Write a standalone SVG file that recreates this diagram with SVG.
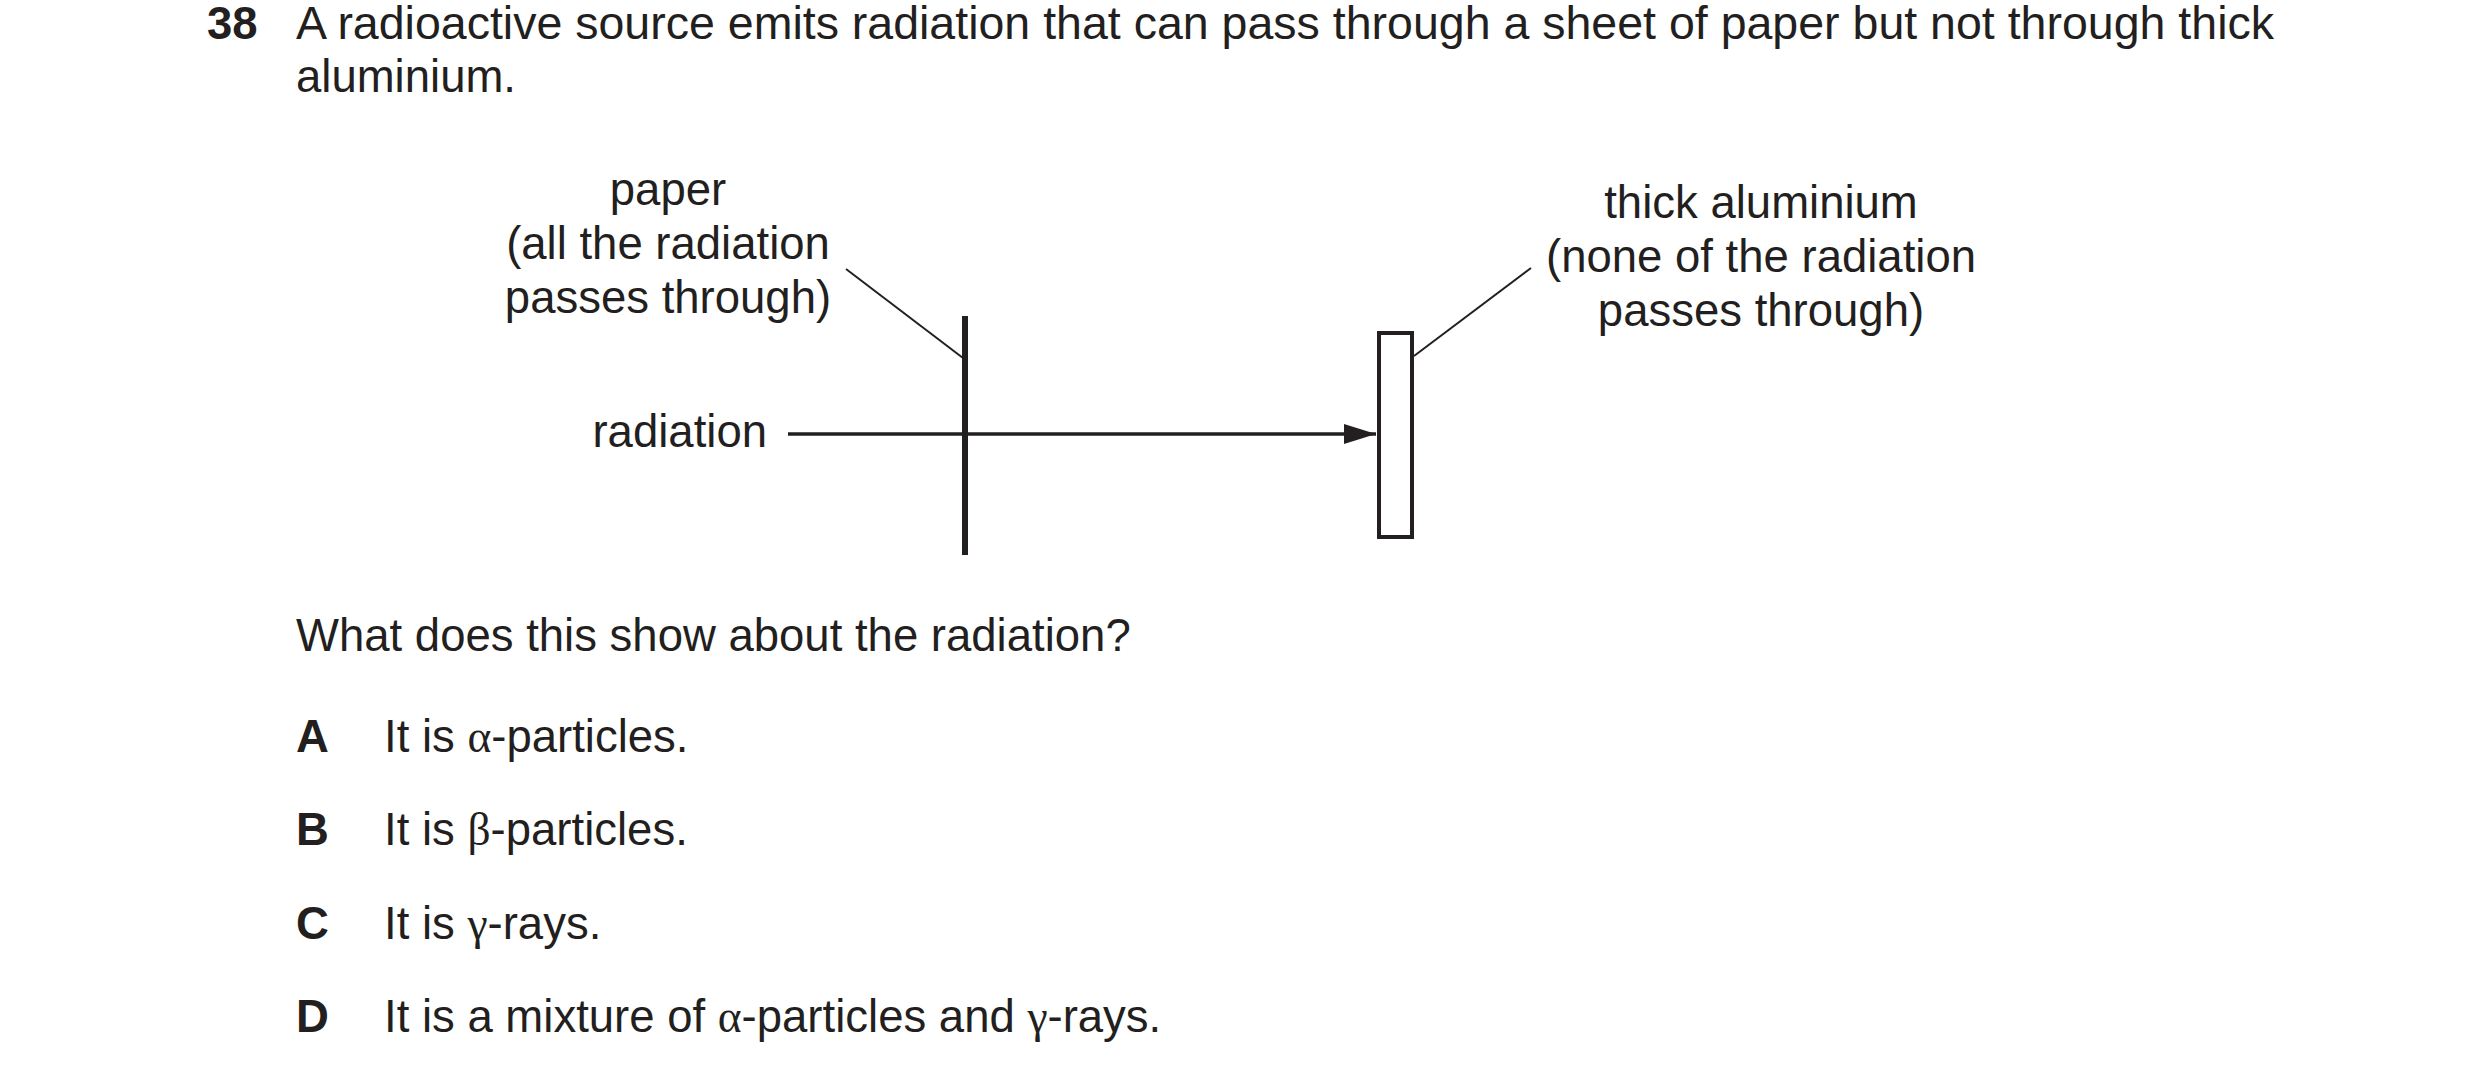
<svg xmlns="http://www.w3.org/2000/svg" width="2480" height="1084" viewBox="0 0 2480 1084">
<style>
text{font-family:"Liberation Sans",Arial,sans-serif;font-size:45.5px;fill:#231f20}
.b{font-weight:bold}
.g{font-family:"Liberation Serif","Times New Roman",serif}
.lbl{font-size:45.5px}
.m{text-anchor:middle}
</style>
<defs>
<marker id="ah" markerWidth="32" markerHeight="20" refX="32" refY="10" orient="auto" markerUnits="userSpaceOnUse" viewBox="0 0 32 20">
<path d="M0,0 L32,10 L0,20 Z" fill="#231f20"/>
</marker>
</defs>
<rect width="2480" height="1084" fill="#fff"/>
<g id="question">
<text x="207" y="39" class="b">38</text>
<text x="296" y="39" textLength="1978" lengthAdjust="spacingAndGlyphs">A radioactive source emits radiation that can pass through a sheet of paper but not through thick</text>
<text x="296" y="92">aluminium.</text>
</g>
<g id="paper">
<line x1="965" y1="316" x2="965" y2="555" stroke="#231f20" stroke-width="6"/>
<text class="lbl m" x="668" y="205">paper</text>
<text class="lbl m" x="668" y="259">(all the radiation</text>
<text class="lbl m" x="668" y="313">passes through)</text>
</g>
<g id="aluminium">
<rect x="1379" y="333" width="33" height="204" fill="#fff" stroke="#231f20" stroke-width="4"/>
<text class="lbl m" x="1761" y="218">thick aluminium</text>
<text class="lbl m" x="1761" y="272">(none of the radiation</text>
<text class="lbl m" x="1761" y="326">passes through)</text>
</g>
<g id="source">
<text class="lbl" x="767" y="447" text-anchor="end">radiation</text>
</g>
<g id="connectors" stroke="#231f20" fill="none">
<line x1="788" y1="434" x2="1376" y2="434" stroke-width="3.5" marker-end="url(#ah)"/>
<line x1="846" y1="269" x2="963" y2="358" stroke-width="2"/>
<line x1="1531" y1="268" x2="1414" y2="356" stroke-width="2"/>
</g>
<g id="options">
<text x="296" y="651">What does this show about the radiation?</text>
<text x="296" y="752" class="b">A</text>
<text x="384" y="752">It is <tspan class="g">α</tspan>-particles.</text>
<text x="296" y="845" class="b">B</text>
<text x="384" y="845">It is <tspan class="g">β</tspan>-particles.</text>
<text x="296" y="939" class="b">C</text>
<text x="384" y="939">It is <tspan class="g">γ</tspan>-rays.</text>
<text x="296" y="1032" class="b">D</text>
<text x="384" y="1032">It is a mixture of <tspan class="g">α</tspan>-particles and <tspan class="g">γ</tspan>-rays.</text>
</g>
</svg>
